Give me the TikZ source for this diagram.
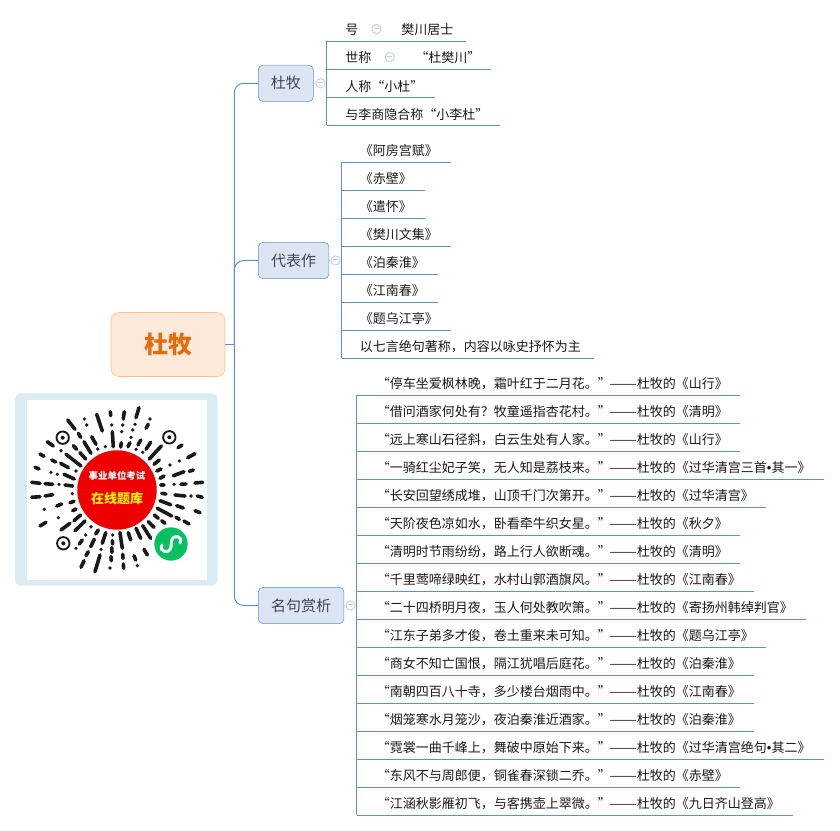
\documentclass[tikz,border=0pt]{standalone}
\usepackage{graphicx}
\usepackage{fontspec}
\setmainfont{Noto Sans CJK SC}
\newfontfamily\latinfont{Liberation Sans}
\definecolor{linkblue}{HTML}{5B8FD6}
\definecolor{togglec}{HTML}{C3CFEA}
\definecolor{branchfill}{HTML}{DCE6F2}
\definecolor{branchtext}{HTML}{3B4656}
\definecolor{topicfill}{HTML}{FDE9D9}
\definecolor{topicdraw}{HTML}{F9C08A}
\definecolor{topictext}{HTML}{E46C0A}
\definecolor{cardfill}{HTML}{DBECF2}
\definecolor{qrred}{HTML}{EE0000}
\definecolor{qrgreen}{HTML}{07C160}
\newcommand{\poem}[2]{\makebox[174.4pt][l]{#1}\scalebox{1.27}[1]{——}#2}
\newcommand{\dotmark}{{\latinfont •}}

\begin{document}
\begin{tikzpicture}[x=0.75pt, y=-0.75pt, font=\fontsize{9.75}{12}\selectfont, text=black!90]
    \tikzstyle{link} = [draw=linkblue, line width=0.75pt]
    \tikzstyle{softlink} = [draw=togglec, line width=0.75pt]
    \tikzstyle{topic} = [rectangle, rounded corners=6pt, minimum width=85.5pt, minimum height=48pt, draw=topicdraw, fill=topicfill, text=topictext, font=\fontsize{18}{20}\selectfont\bfseries]
    \tikzstyle{branch} = [rectangle, rounded corners=3.5pt, minimum height=27.2pt, inner xsep=0pt, draw=linkblue, fill=branchfill, text=branchtext, font=\fontsize{11.25}{13}\selectfont]
    \tikzstyle{toggle} = [circle, minimum size=7pt, inner sep=0pt, draw=togglec, fill=white, line width=0.7pt]
    \tikzstyle{plain} = [inner sep=0pt, anchor=west]
    \tikzset{leaf/.style 2 args={anchor=south west, inner sep=0pt, minimum height=16.5pt, text width=#1*0.75pt, align=left,
        execute at begin node={\hspace*{\dimexpr #2pt*3/4\relax}},
        append after command={(\tikzlastnode.south west) edge [link] (\tikzlastnode.south east)}}}
    \useasboundingbox (0,0) rectangle (840,831);

    % Central topic
    \node [topic] (dumu_topic) at (168,344.5) {杜牧};
    \coordinate (trunk) at (234.3,344.5);

    % Branches
    \node [branch, minimum width=41.2pt] (dumu) at (285.8,83.3) {杜牧};
    \node [branch, minimum width=53pt] (works) at (293.6,260.5) {代表作};
    \node [branch, minimum width=64.2pt] (quotes) at (301.1,605.5) {名句赏析};
    \node [toggle] (dumu_toggle) at (320.5,83.3) {\textcolor{togglec}{\rule[1.1pt]{3.6pt}{0.7pt}}};
    \node [toggle] (works_toggle) at (335.5,260.5) {\textcolor{togglec}{\rule[1.1pt]{3.6pt}{0.7pt}}};
    \node [toggle] (quotes_toggle) at (350.5,605.5) {\textcolor{togglec}{\rule[1.1pt]{3.6pt}{0.7pt}}};

    % Leaves of the first branch
    \node [leaf={139}{18.5}] (hao) at (326.5,41.3) {号};
    \node [leaf={164}{18.5}] (shicheng) at (326.5,69.3) {世称};
    \node [leaf={108}{18.5}] (rencheng) at (326.5,97.3) {人称“小杜”};
    \node [leaf={173}{18.5}] (xiaolidu) at (326.5,125.3) {与李商隐合称“小李杜”};
    \node [toggle] (hao_toggle) at (376.5,29) {\textcolor{togglec}{\rule[1.1pt]{3.6pt}{0.7pt}}};
    \node [toggle] (shicheng_toggle) at (389.7,57) {\textcolor{togglec}{\rule[1.1pt]{3.6pt}{0.7pt}}};
    \node [plain] (fanchuan) at (401,29.5) {樊川居士};
    \node [plain] (dufanchuan) at (415,57.5) {“杜樊川”};

    % Leaves of the second branch
    \node [leaf={108.5}{18}] (afang) at (341.5,162.3) {《阿房宫赋》};
    \node [leaf={82.5}{18}] (chibi) at (341.5,190.3) {《赤壁》};
    \node [leaf={82.5}{18}] (qianhuai) at (341.5,218.3) {《遣怀》};
    \node [leaf={108.5}{18}] (wenji) at (341.5,246.3) {《樊川文集》};
    \node [leaf={95.5}{18}] (boqinhuai) at (341.5,274.3) {《泊秦淮》};
    \node [leaf={95.5}{18}] (jiangnan) at (341.5,302.3) {《江南春》};
    \node [leaf={108.5}{18}] (wujiang) at (341.5,330.3) {《题乌江亭》};
    \node [leaf={251.5}{18}] (style) at (341.5,358.3) {以七言绝句著称，内容以咏史抒怀为主};

    % Leaves of the third branch
    \node [leaf={382.5}{20}] (q_a) at (356.5,395.3) {\poem{“停车坐爱枫林晚，霜叶红于二月花。”}{杜牧的《山行》}};
    \node [leaf={382.5}{20}] (q_b) at (356.5,423.3) {\poem{“借问酒家何处有？牧童遥指杏花村。”}{杜牧的《清明》}};
    \node [leaf={382.5}{20}] (q_c) at (356.5,451.3) {\poem{“远上寒山石径斜，白云生处有人家。”}{杜牧的《山行》}};
    \node [leaf={466.5}{20}] (q_d) at (356.5,479.3) {\poem{“一骑红尘妃子笑，无人知是荔枝来。”}{杜牧的《过华清宫三首\dotmark 其一》}};
    \node [leaf={408.5}{20}] (q_e) at (356.5,507.3) {\poem{“长安回望绣成堆，山顶千门次第开。”}{杜牧的《过华清宫》}};
    \node [leaf={382.5}{20}] (q_f) at (356.5,535.3) {\poem{“天阶夜色凉如水，卧看牵牛织女星。”}{杜牧的《秋夕》}};
    \node [leaf={382.5}{20}] (q_g) at (356.5,563.3) {\poem{“清明时节雨纷纷，路上行人欲断魂。”}{杜牧的《清明》}};
    \node [leaf={396.5}{20}] (q_h) at (356.5,591.3) {\poem{“千里莺啼绿映红，水村山郭酒旗风。”}{杜牧的《江南春》}};
    \node [leaf={448.5}{20}] (q_i) at (356.5,619.3) {\poem{“二十四桥明月夜，玉人何处教吹箫。”}{杜牧的《寄扬州韩绰判官》}};
    \node [leaf={408.5}{20}] (q_j) at (356.5,647.3) {\poem{“江东子弟多才俊，卷土重来未可知。”}{杜牧的《题乌江亭》}};
    \node [leaf={396.5}{20}] (q_k) at (356.5,675.3) {\poem{“商女不知亡国恨，隔江犹唱后庭花。”}{杜牧的《泊秦淮》}};
    \node [leaf={396.5}{20}] (q_l) at (356.5,703.3) {\poem{“南朝四百八十寺，多少楼台烟雨中。”}{杜牧的《江南春》}};
    \node [leaf={396.5}{20}] (q_m) at (356.5,731.3) {\poem{“烟笼寒水月笼沙，夜泊秦淮近酒家。”}{杜牧的《泊秦淮》}};
    \node [leaf={466.5}{20}] (q_n) at (356.5,759.3) {\poem{“霓裳一曲千峰上，舞破中原始下来。”}{杜牧的《过华清宫绝句\dotmark 其二》}};
    \node [leaf={382.5}{20}] (q_o) at (356.5,787.3) {\poem{“东风不与周郎便，铜雀春深锁二乔。”}{杜牧的《赤壁》}};
    \node [leaf={435.5}{20}] (q_p) at (356.5,815.3) {\poem{“江涵秋影雁初飞，与客携壶上翠微。”}{杜牧的《九日齐山登高》}};

    % Connections
    \draw [link] (dumu_topic.east) -- (trunk);
    \draw [link, rounded corners=7pt] (trunk) |- (dumu.west);
    \draw [link, rounded corners=7pt] (trunk) |- (works.west);
    \draw [link, rounded corners=7pt] (trunk) |- (quotes.west);

    \draw [softlink] (dumu.east) -- (dumu_toggle);
    \draw [softlink] (works.east) -- (works_toggle);
    \draw [softlink] (quotes.east) -- (quotes_toggle);
    \draw [softlink] (dumu_toggle) -- (dumu_toggle -| hao.south west);
    \draw [softlink] (works_toggle) -- (works_toggle -| afang.south west);
    \draw [softlink] (quotes_toggle) -- (quotes_toggle -| q_a.south west);

    \draw [link] (hao.south west) -- (xiaolidu.south west);
    \draw [link] (afang.south west) -- (style.south west);
    \draw [link] (q_a.south west) -- (q_p.south west);

    % Code card
    \fill [cardfill, rounded corners=4.5pt] (15,393.3) rectangle (217.7,585.7);
    \fill [white] (27,400) rectangle (207,580);

    % Code marks
    \draw [black!90, line width=2.7pt, line cap=round]
        (67.7,420) -- (75,429.3) (96.7,414.3) -- (102.3,431) (110.3,411.7) -- (110.7,415.7)
        (112.3,431.7) -- (113.3,446.7) (47.3,441.7) -- (53.3,446) (78.3,433.3) -- (80.7,437.3)
        (91.7,436.7) -- (96,444.3) (84,441.7) -- (91,453.3) (73.3,445.7) -- (76.7,449.3)
        (80,452.7) -- (85.7,459) (66,454.3) -- (81,466) (40,454) -- (44,456.3)
        (51.7,460) -- (55.7,462) (60.7,463.3) -- (68.3,467.7) (35,467.3) -- (39,469)
        (64,474.3) -- (74.3,479) (31.7,482.3) -- (40,483.3) (45,483.7) -- (52.7,484.3)
        (65,485) -- (72.7,486)
        (139,407.7) -- (136,417.7) (124.3,411.7) -- (123.3,419) (148.3,424.3) -- (146,428.3)
        (121.3,442.7) -- (120.7,447) (130,442.7) -- (128,446.7) (140.7,440) -- (138,445)
        (150.7,442.3) -- (146,449.3) (161.3,446) -- (149.3,459) (182,445) -- (178,447.7)
        (195,453.7) -- (187.7,457.7) (159.3,460) -- (154,464.3) (161,469) -- (156.7,471)
        (184,471.7) -- (173.3,475.7) (193.3,470) -- (189.3,471.3) (164,476) -- (160,478.3)
        (202.7,482.3) -- (195,483) (186,484) -- (181,484.3) (164,485) -- (160.7,485)
        (161.7,493.3) -- (166,494) (175,495) -- (185,496) (197.3,496) -- (202.3,497.3)
        (160,500.7) -- (170.7,504.7) (176.7,505.7) -- (183.3,508) (195,510.7) -- (200,512.7)
        (157.3,508.3) -- (171.7,516) (176,517.3) -- (179.3,519.3) (184,521) -- (189,524)
        (154.3,515) -- (158.3,518.3) (161.7,520.7) -- (165,523.3) (148.3,521.7) -- (154,527.3)
        (142.7,525.7) -- (150.7,538.3) (136,528.3) -- (140.7,538.3) (128.3,532.7) -- (130.7,540)
        (120,532.7) -- (122.3,548.3) (144,549.3) -- (147.3,555) (134,555.7) -- (135.7,560)
        (122.7,554.3) -- (123,558.3) (123.3,564) -- (123.7,568.3)
        (31.7,497.3) -- (40,496.7) (45,496) -- (52.7,494.7) (70,502.7) -- (74,501.3)
        (56.7,506) -- (61.7,504) (72.7,510.7) -- (76,509) (74,520.7) -- (80.7,515)
        (40,526) -- (46,522.3) (61,530) -- (70,523.3) (75,530.7) -- (85,521)
        (95.7,534) -- (98.3,530) (79.3,544) -- (82.3,540) (90.7,546.7) -- (94.3,539.3)
        (102.3,543.3) -- (105.7,532.7) (112.3,540.7) -- (112.7,544) (86,555.7) -- (88.3,551.7)
        (111.7,547.7) -- (112,552.3) (81,567.3) -- (84,560.7) (95,571.7) -- (100,555)
        (111,556.7) -- (111.3,560.7);
    \fill [black!90]
        (84.3,419) circle (1.8) (86.7,425) circle (1.8) (111.7,425) circle (1.8) (61,450.7) circle (1.8)
        (97.7,449) circle (1.8) (105.3,446.7) circle (1.8) (51,472.3) circle (1.8) (57.3,474.3) circle (1.8)
        (76,471) circle (1.8) (59,484.3) circle (1.8) (150,419) circle (1.8) (122.7,425) circle (1.8)
        (135,424.3) circle (1.8) (132.7,430) circle (1.8) (121.7,431.7) circle (1.8) (131,437.3) circle (1.8)
        (136,449.3) circle (1.8) (142.7,452.3) circle (1.8) (179.3,461) circle (1.8) (170,465) circle (1.8)
        (174,484.3) circle (1.8) (191,496) circle (1.8) (137.3,565.7) circle (1.8) (72.3,493.7) circle (1.8)
        (44.3,509.3) circle (1.8) (58.3,517.7) circle (1.8) (91,526.7) circle (1.8) (85.7,535) circle (1.8)
        (112.7,535) circle (1.8) (76,548.3) circle (1.8) (101,549.3) circle (1.8) (110,568) circle (1.8);

    % Corner targets
    \draw [black!90, line width=1.4pt] (62.7,437.7) circle (6.2) (169.3,437.3) circle (6.2) (63.3,543.3) circle (6.2);
    \fill [black!90] (62.7,437.7) circle (2) (169.3,437.3) circle (2) (63.3,543.3) circle (2);

    % Centre of the code
    \node [circle, fill=qrred, minimum size=59.6pt, inner sep=0pt] (qr_centre) at (117,490) {};
    \node [text=white, inner sep=0pt, font=\fontsize{7.1}{8}\selectfont\bfseries] (qr_title) at (117,475.5) {事业单位考试};
    \node [text=yellow, inner sep=0pt, font=\fontsize{9.75}{11}\selectfont\bfseries] (qr_sub) at (117,498.5) {在线题库};
    \node [circle, fill=qrgreen, minimum size=25pt, inner sep=0pt] (qr_badge) at (171,544) {};
    \draw [white, line width=2.2pt, line cap=round]
        (162,545) .. controls (158.5,552) and (169.5,555) .. (171,547) -- (171.5,541)
        .. controls (173,533.5) and (183.5,536) .. (180,543);
\end{tikzpicture}
\end{document}
